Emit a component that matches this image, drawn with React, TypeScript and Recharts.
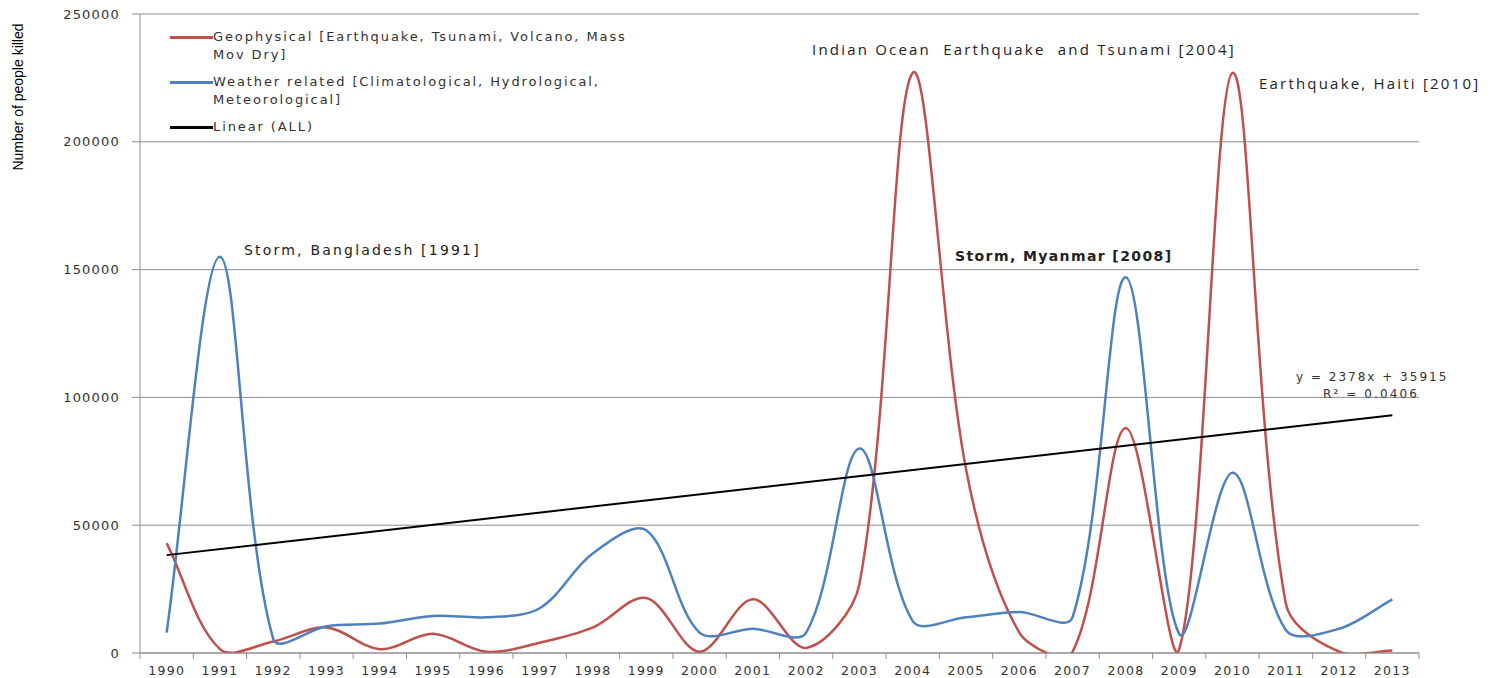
import { LineChart, Line, XAxis, YAxis, CartesianGrid } from 'recharts';

const years = ['1990', '1991', '1992', '1993', '1994', '1995', '1996', '1997', '1998', '1999', '2000', '2001',
  '2002', '2003', '2004', '2005', '2006', '2007', '2008', '2009', '2010', '2011', '2012', '2013'];

const geophysical = [43000, 1500, 4500, 10000, 1500, 7500, 500, 4000, 10000, 21500, 500, 21000,
  2000, 27000, 227000, 72000, 8000, 500, 88000, 1500, 227000, 19500, 500, 1000];

const weather = [8000, 155000, 5500, 10500, 11500, 14500, 14000, 17500, 39000, 48000, 8000, 9500,
  8000, 80000, 12500, 14000, 16000, 14000, 147000, 7500, 70500, 9000, 9500, 21000];

// linear trend (ALL) read at first and last year
const trendEnds = [38293, 92987];

const yTicks = [0, 50000, 100000, 150000, 200000, 250000];

const data = years.map((year, i) => ({
  idx: i,
  year,
  geo: geophysical[i],
  weather: weather[i],
  trend: i === 0 ? trendEnds[0] : i === years.length - 1 ? trendEnds[1] : null,
}));

const W = 1494;
const H = 678;
const PLOT_LEFT = 140;
const PLOT_RIGHT = 1419;
const CAT_W = (PLOT_RIGHT - PLOT_LEFT) / years.length;
const GRID = '#8e8e8e';
const TEXT = '#333';
const SANS = '"DejaVu Sans", Verdana, sans-serif';

// Excel-like smoothing: Catmull-Rom tangents weighted by segment length
const excelSmooth = (context: any) => {
  let pts: [number, number][] = [];
  const dist = (a: [number, number], b: [number, number]) => Math.hypot(b[0] - a[0], b[1] - a[1]);
  return {
    areaStart() {},
    areaEnd() {},
    lineStart() {
      pts = [];
    },
    point(x: number, y: number) {
      pts.push([x, y]);
    },
    lineEnd() {
      if (!pts.length) return;
      context.moveTo(pts[0][0], pts[0][1]);
      for (let i = 0; i < pts.length - 1; i++) {
        const p0 = pts[i - 1] || pts[i];
        const p1 = pts[i];
        const p2 = pts[i + 1];
        const p3 = pts[i + 2] || p2;
        const d01 = dist(p0, p1);
        const d12 = dist(p1, p2);
        const d23 = dist(p2, p3);
        const k1 = d01 + d12 > 0 ? d12 / (d01 + d12) / 3 : 0;
        const k2 = d12 + d23 > 0 ? d12 / (d12 + d23) / 3 : 0;
        context.bezierCurveTo(
          p1[0] + (p2[0] - p0[0]) * k1, p1[1] + (p2[1] - p0[1]) * k1,
          p2[0] - (p3[0] - p1[0]) * k2, p2[1] - (p3[1] - p1[1]) * k2,
          p2[0], p2[1]
        );
      }
    },
  };
};

const XTick = (props: any) => {
  const { x, y, payload, index } = props;
  const half = CAT_W / 2;
  const last = index === years.length - 1;
  return (
    <g>
      <line x1={x - half} x2={x - half} y1={y} y2={y + 6} stroke={GRID} />
      {last && <line x1={x + half} x2={x + half} y1={y} y2={y + 6} stroke={GRID} />}
      <text x={x} y={y + 22} textAnchor="middle" fill={TEXT} fontSize={12.5} fontFamily={SANS} letterSpacing={1.3}>
        {years[payload.value]}
      </text>
    </g>
  );
};

const legendItems = [
  { color: '#C0504D', lines: ['Geophysical [Earthquake, Tsunami, Volcano, Mass', 'Mov Dry]'] },
  { color: '#4F81BD', lines: ['Weather related [Climatological, Hydrological,', 'Meteorological]'] },
  { color: '#000000', lines: ['Linear (ALL)'] },
];

const note = (left: number, top: number, text: string, style: any = {}) => (
  <div
    style={{
      position: 'absolute', left, top, transform: 'translateY(-50%)', whiteSpace: 'pre',
      fontFamily: SANS, fontSize: 14, letterSpacing: 2.2, color: '#222', lineHeight: 1, ...style,
    }}
  >
    {text}
  </div>
);

export default function App() {
  return (
    <div style={{ position: 'absolute', left: 0, top: 0, width: W, height: H, background: '#fff' }}>
      <LineChart
        width={W}
        height={H}
        data={data}
        margin={{ top: 14, right: W - PLOT_RIGHT, bottom: 0, left: 0 }}
        style={{ fontFamily: SANS }}
      >
        <CartesianGrid vertical={false} stroke={GRID} />
        <XAxis
          dataKey="idx"
          type="number"
          domain={[-0.5, years.length - 0.5]}
          ticks={years.map((_, i) => i)}
          interval={0}
          height={25}
          tickLine={false}
          tickSize={0}
          tickMargin={0}
          axisLine={{ stroke: GRID }}
          tick={<XTick />}
        />
        <YAxis
          type="number"
          domain={[0, 250000]}
          ticks={yTicks}
          allowDataOverflow
          width={PLOT_LEFT}
          tickSize={8}
          tickMargin={12}
          axisLine={{ stroke: GRID }}
          tickLine={{ stroke: GRID }}
          tick={{ fill: TEXT, fontSize: 13, fontFamily: SANS, letterSpacing: 1.2 }}
        />
        <Line
          dataKey="geo"
          type={excelSmooth as any}
          stroke="#C0504D"
          strokeWidth={2.5}
          dot={false}
          activeDot={false}
          isAnimationActive={false}
        />
        <Line
          dataKey="weather"
          type={excelSmooth as any}
          stroke="#4F81BD"
          strokeWidth={2.5}
          dot={false}
          activeDot={false}
          isAnimationActive={false}
        />
        <Line
          dataKey="trend"
          type="linear"
          connectNulls
          stroke="#000"
          strokeWidth={2}
          dot={false}
          activeDot={false}
          isAnimationActive={false}
        />
      </LineChart>

      <div
        style={{
          position: 'absolute', left: 18, top: 97, transform: 'translate(-50%, -50%) rotate(-90deg)',
          whiteSpace: 'nowrap', fontFamily: '"Liberation Sans Narrow", "Liberation Sans", Arial, sans-serif',
          fontSize: 14, color: '#000',
        }}
      >
        Number of people killed
      </div>

      <div style={{ position: 'absolute', left: 170, top: 28, fontFamily: SANS, fontSize: 13, color: TEXT, letterSpacing: 1.9 }}>
        {legendItems.map((item) => (
          <div key={item.color} style={{ display: 'flex', alignItems: 'flex-start', marginBottom: 9 }}>
            <div style={{ width: 43, height: 2.5, background: item.color, marginTop: 8, flexShrink: 0 }} />
            <div style={{ lineHeight: '18px', whiteSpace: 'nowrap' }}>
              {item.lines.map((l) => (
                <div key={l}>{l}</div>
              ))}
            </div>
          </div>
        ))}
      </div>

      {note(244, 250, 'Storm, Bangladesh [1991]')}
      {note(812, 49, 'Indian Ocean  Earthquake  and Tsunami [2004]', { fontFamily: '"Open Sans", sans-serif', fontSize: 15, letterSpacing: 2.2 })}
      {note(955, 256, 'Storm, Myanmar [2008]', { fontWeight: 'bold', fontSize: 14, letterSpacing: 1.4 })}
      {note(1259, 83, 'Earthquake, Haiti [2010]', { fontFamily: '"Open Sans", sans-serif', fontSize: 15, letterSpacing: 2.2 })}
      {note(1296, 377, 'y = 2378x + 35915', { fontSize: 12, letterSpacing: 2, color: TEXT })}
      {note(1323, 394, 'R² = 0.0406', { fontSize: 12, letterSpacing: 2.1, color: TEXT })}
    </div>
  );
}
